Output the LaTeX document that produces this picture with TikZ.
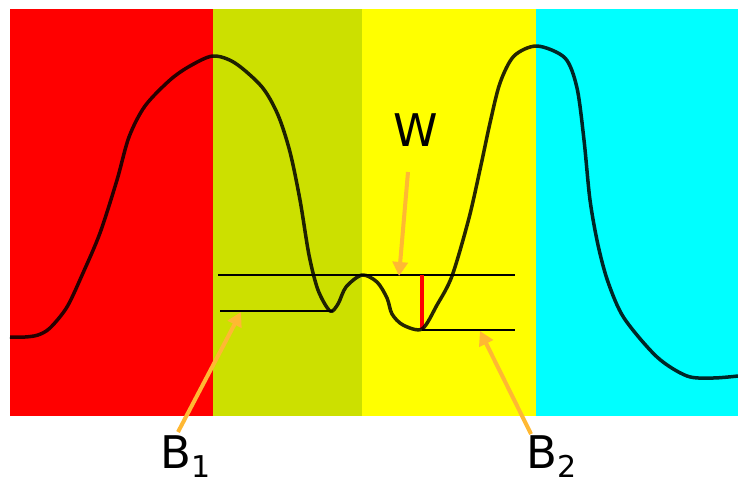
\documentclass[tikz,border=0pt]{standalone}
\usepackage{fontspec}
\setmainfont{DejaVu Sans}
\usepackage{tikz}
\usetikzlibrary{calc,arrows.meta}

\definecolor{redzone}{RGB}{255,0,0}
\definecolor{olivezone}{RGB}{204,224,0}
\definecolor{yellowzone}{RGB}{255,255,0}
\definecolor{cyanzone}{RGB}{0,255,255}
\definecolor{pointerorange}{RGB}{255,184,51}
\newcommand{\lowidx}[1]{\raisebox{-0.22em}{\fontsize{30}{30}\selectfont #1}}

\begin{document}
\begin{tikzpicture}[x=1pt, y=-1pt,
    pointer/.style={draw=pointerorange, line width=4pt, -{Triangle[width=15pt,length=14pt]}},
    level/.style={black, line width=1.8pt},
    bigtext/.style={font=\fontsize{45}{54}\selectfont, inner sep=0pt}]
        % --- 1. Parameters ---
        \def\topY{9}
        \def\botY{416}
        \useasboundingbox (0,0) rectangle (738,485);

        % --- 2. Colour bands ---
        \fill[redzone] (10,\topY) rectangle (213,\botY);
        \fill[olivezone] (213,\topY) rectangle (362,\botY);
        \fill[yellowzone] (362,\topY) rectangle (536,\botY);
        \fill[cyanzone] (536,\topY) rectangle (738,\botY);

        % --- 3. Levels ---
        \draw[level] (218,275) -- (515,275);
        \draw[level] (220,311) -- (333,311);
        \draw[level] (422,330) -- (515,330);
        \draw[redzone, line width=4pt] (422,275) -- (422,329);

        % --- 4. Profile ---
        \draw[black, opacity=0.85, line width=3.5pt, line join=round]
            plot[smooth, tension=0.5] coordinates {
            (10,337) (25,337) (38,335) (50,328) (67,307) (83,273) (100,233)
            (117,180) (129,137) (145,106) (170,80) (190,66) (213,56) (235,63)
            (262,87) (278,115) (290,152) (300,200) (309,255) (318,290) (330,311)
            (338,304) (346,287) (362,275) (377,282) (387,298) (392,314) (403,325)
            (422,329) (437,305) (452,276) (469,218) (481,165) (490,123) (500,83)
            (514,56) (537,46) (565,58) (577,88) (584,140) (590,200) (598,245)
            (608,282) (624,318) (657,357) (687,376) (713,378) (738,376)};

        % --- 5. Annotations ---
        \node[bigtext] (Wlab) at (416,130) {W};
        \node[bigtext, anchor=base west] (B1lab) at (160,468) {B\lowidx{1}};
        \node[bigtext, anchor=base west] (B2lab) at (526,468) {B\lowidx{2}};

        \coordinate (Wtail) at (408,172);
        \coordinate (Wtip) at (399,276);
        \coordinate (B1tail) at (178,432);
        \coordinate (B1tip) at (241,312);
        \coordinate (B2tail) at (531,434);
        \coordinate (B2tip) at (480,331);

        \draw[pointer] (Wtail) -- (Wtip);
        \draw[pointer] (B1tail) -- (B1tip);
        \draw[pointer] (B2tail) -- (B2tip);
    \end{tikzpicture}
\end{document}
